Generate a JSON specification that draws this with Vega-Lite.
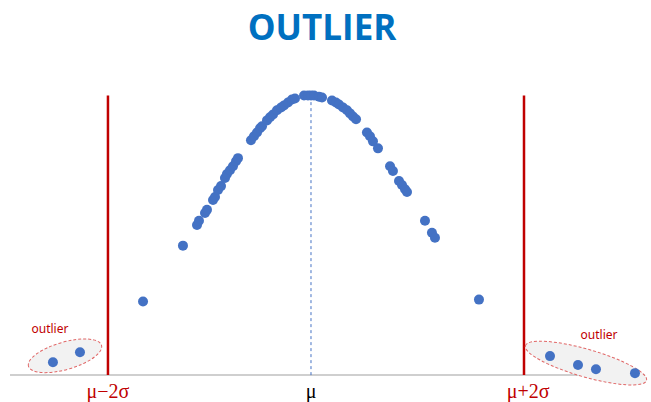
{
  "$schema": "https://vega.github.io/schema/vega-lite/v6.json",
  "width": 651,
  "height": 402,
  "autosize": {"type": "fit", "contains": "padding"},
  "padding": 0,
  "background": "white",
  "config": {"view": {"stroke": null}},
  "datasets": {
    "points": [
      {"x": -2.481, "y": 0.046}, {"x": -2.221, "y": 0.082},
      {"x": -1.615, "y": 0.263}, {"x": -1.231, "y": 0.463},
      {"x": -1.096, "y": 0.537}, {"x": -1.077, "y": 0.552},
      {"x": -1.019, "y": 0.580}, {"x": -1.000, "y": 0.591},
      {"x": -0.942, "y": 0.626}, {"x": -0.923, "y": 0.637},
      {"x": -0.894, "y": 0.662}, {"x": -0.865, "y": 0.676},
      {"x": -0.827, "y": 0.705}, {"x": -0.808, "y": 0.719},
      {"x": -0.779, "y": 0.733}, {"x": -0.750, "y": 0.747},
      {"x": -0.721, "y": 0.765}, {"x": -0.702, "y": 0.776},
      {"x": -0.577, "y": 0.840}, {"x": -0.548, "y": 0.854},
      {"x": -0.519, "y": 0.868}, {"x": -0.490, "y": 0.883},
      {"x": -0.471, "y": 0.890}, {"x": -0.423, "y": 0.911},
      {"x": -0.394, "y": 0.922}, {"x": -0.365, "y": 0.932},
      {"x": -0.327, "y": 0.947}, {"x": -0.288, "y": 0.957},
      {"x": -0.260, "y": 0.964}, {"x": -0.221, "y": 0.975},
      {"x": -0.183, "y": 0.986}, {"x": -0.154, "y": 0.989},
      {"x": -0.067, "y": 1.000}, {"x": -0.029, "y": 1.000},
      {"x": 0.000, "y": 1.000}, {"x": 0.029, "y": 1.000},
      {"x": 0.077, "y": 0.996}, {"x": 0.106, "y": 0.993},
      {"x": 0.202, "y": 0.982}, {"x": 0.240, "y": 0.975},
      {"x": 0.269, "y": 0.968}, {"x": 0.308, "y": 0.957},
      {"x": 0.346, "y": 0.947}, {"x": 0.375, "y": 0.936},
      {"x": 0.404, "y": 0.925}, {"x": 0.433, "y": 0.915},
      {"x": 0.538, "y": 0.868}, {"x": 0.567, "y": 0.854},
      {"x": 0.596, "y": 0.836}, {"x": 0.644, "y": 0.811},
      {"x": 0.760, "y": 0.747}, {"x": 0.788, "y": 0.730},
      {"x": 0.846, "y": 0.694}, {"x": 0.875, "y": 0.680},
      {"x": 0.904, "y": 0.665}, {"x": 0.923, "y": 0.655},
      {"x": 1.096, "y": 0.552}, {"x": 1.163, "y": 0.509},
      {"x": 1.192, "y": 0.491}, {"x": 1.615, "y": 0.270},
      {"x": 2.298, "y": 0.068}, {"x": 2.567, "y": 0.036},
      {"x": 2.740, "y": 0.021}, {"x": 3.115, "y": 0.007}
    ]
  },
  "encoding": {
    "x": {"field": "x", "type": "quantitative", "scale": {"domain": [-2.99, 3.269], "nice": false, "zero": false}, "axis": null},
    "y": {"field": "y", "type": "quantitative", "scale": {"domain": [-0.089, 1.3416], "nice": false, "zero": false}, "axis": null}
  },
  "layer": [
    {
      "data": {"values": [{"x": -2.894, "x2": 3.212, "y": 0}]},
      "mark": {"type": "rule", "color": "#BFBFBF", "strokeWidth": 1.5},
      "encoding": {"x2": {"field": "x2"}}
    },
    {
      "data": {"values": [{"x": -1.952, "y": 0, "y2": 1}, {"x": 2.048, "y": 0, "y2": 1}]},
      "mark": {"type": "rule", "color": "#C00000", "strokeWidth": 2.5},
      "encoding": {"y2": {"field": "y2"}}
    },
    {
      "data": {"values": [{"x": 0, "y": 0, "y2": 1}]},
      "mark": {"type": "rule", "color": "#4472C4", "strokeWidth": 1, "strokeDash": [3, 3]},
      "encoding": {"y2": {"field": "y2"}}
    },
    {
      "data": {"values": [{"x": -2.365, "y": 0.069}]},
      "mark": {"type": "point", "shape": "M -1 0 A 1 0.36 0 1 1 1 0 A 1 0.36 0 1 1 -1 0 Z", "size": 5776, "angle": -16, "filled": false, "fill": "#F2F2F2", "fillOpacity": 1, "stroke": "#E06666", "strokeWidth": 1, "strokeDash": [3, 2], "opacity": 1}
    },
    {
      "data": {"values": [{"x": 2.644, "y": 0.043}]},
      "mark": {"type": "point", "shape": "M -1 0 A 1 0.22 0 1 1 1 0 A 1 0.22 0 1 1 -1 0 Z", "size": 15876, "angle": 16, "filled": false, "fill": "#F2F2F2", "fillOpacity": 1, "stroke": "#E06666", "strokeWidth": 1, "strokeDash": [3, 2], "opacity": 1}
    },
    {
      "data": {"name": "points"},
      "mark": {"type": "circle", "size": 100, "color": "#4472C4", "opacity": 1}
    },
    {
      "data": {"values": [{"x": -2.51, "y": 0.164, "label": "outlier"}, {"x": 2.769, "y": 0.142, "label": "outlier"}]},
      "mark": {"type": "text", "font": "Noto Sans", "fontSize": 12, "color": "#C00000", "align": "center", "baseline": "middle"},
      "encoding": {"text": {"field": "label"}}
    },
    {
      "data": {"values": [{"x": -1.952, "y": -0.0587, "label": "μ−2σ"}, {"x": 2.087, "y": -0.0587, "label": "μ+2σ"}]},
      "mark": {"type": "text", "font": "Liberation Serif", "fontSize": 20, "color": "#C00000", "align": "center", "baseline": "middle"},
      "encoding": {"text": {"field": "label"}}
    },
    {
      "data": {"values": [{"x": 0, "y": -0.0587, "label": "μ"}]},
      "mark": {"type": "text", "font": "Liberation Serif", "fontSize": 20, "color": "#000000", "align": "center", "baseline": "middle"},
      "encoding": {"text": {"field": "label"}}
    },
    {
      "data": {"values": [{"x": 0.106, "y": 1.2367, "label": "OUTLIER"}]},
      "mark": {"type": "text", "font": "Open Sans", "fontWeight": "bold", "fontSize": 35, "color": "#0070C0", "align": "center", "baseline": "middle"},
      "encoding": {"text": {"field": "label"}}
    }
  ]
}
